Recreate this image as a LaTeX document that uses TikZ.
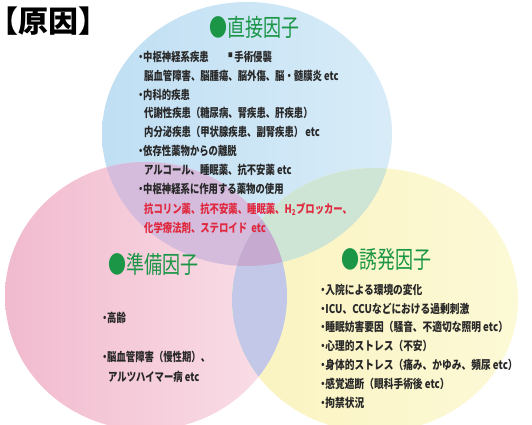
\documentclass[tikz,border=0pt]{standalone}
\usepackage{fontspec}
\newfontfamily\jp{Noto Sans CJK JP}
\definecolor{cblueL}{RGB}{192,223,243}
\definecolor{cblueR}{RGB}{216,236,248}
\definecolor{cpinkL}{RGB}{241,186,206}
\definecolor{cpinkR}{RGB}{250,224,232}
\definecolor{cyellL}{RGB}{250,243,192}
\definecolor{cyellR}{RGB}{252,249,214}
\definecolor{cby}{RGB}{206,228,212}
\definecolor{cbp}{RGB}{213,188,221}
\definecolor{cpy}{RGB}{195,199,232}
\definecolor{ctri}{RGB}{198,170,207}
\definecolor{tgray}{RGB}{40,40,40}
\definecolor{tgreen}{RGB}{26,150,70}
\definecolor{tred}{RGB}{224,40,62}
\newcommand{\sx}[1]{\scalebox{0.78}[1]{#1}}
\newcommand{\sy}[1]{\scalebox{0.81}[1]{#1}}
\newcommand{\st}[1]{\scalebox{0.75}[1]{#1}}
\newcommand{\bu}{・\kern-0.25em}
\begin{document}
\begin{tikzpicture}[x=1pt,y=-1pt,
  txt/.style={anchor=west,inner sep=0,font=\jp\bfseries\fontsize{12}{14}\selectfont,text=tgray},
  redtxt/.style={txt,text=tred},
  ttl/.style={anchor=west,inner sep=0,font=\jp\fontsize{24}{28}\selectfont,text=tgreen}]
\useasboundingbox (0,0) rectangle (532,425);
\fill[white] (0,0) rectangle (532,425);
\clip (0,0) rectangle (532,425);
% circles
\shade[left color=cblueL,right color=cblueR] (247,134) ellipse [x radius=145pt, y radius=132pt];
\shade[left color=cpinkL,right color=cpinkR] (146,296) ellipse [x radius=141pt, y radius=134pt];
\shade[left color=cyellL,right color=cyellR] (375,300) ellipse [x radius=143pt, y radius=132pt];
\begin{scope}
  \clip (247,134) ellipse [x radius=145pt, y radius=132pt];
  \fill[cbp] (146,296) ellipse [x radius=141pt, y radius=134pt];
  \fill[cby] (375,300) ellipse [x radius=143pt, y radius=132pt];
\end{scope}
\begin{scope}
  \clip (146,296) ellipse [x radius=141pt, y radius=134pt];
  \fill[cpy] (375,300) ellipse [x radius=143pt, y radius=132pt];
\end{scope}
\begin{scope}
  \clip (247,134) ellipse [x radius=145pt, y radius=132pt];
  \clip (146,296) ellipse [x radius=141pt, y radius=134pt];
  \fill[ctri] (375,300) ellipse [x radius=143pt, y radius=132pt];
\end{scope}
% heading
\node[anchor=west,inner sep=0,font=\jp\bfseries\fontsize{30}{32}\selectfont] (gen) at (-12,21) {【原因】};
% direct factors
\node[ttl] (t1) at (209,27) {\st{●直接因子}};
\node[txt] (a1) at (136,57) {\sx{\bu 中枢神経系疾患}};
\node[txt] (a1b) at (228,57) {\sx{\raisebox{0.35em}{\fontsize{6}{6}\selectfont ■}\,手術侵襲}};
\node[txt] (a2) at (144,76) {\sx{脳血管障害、脳腫瘍、脳外傷、脳・髄膜炎 etc}};
\node[txt] (a3) at (136,95) {\sx{\bu 内科的疾患}};
\node[txt] (a4) at (144,113) {\sx{代謝性疾患（糖尿病、腎疾患、肝疾患）}};
\node[txt] (a5) at (144,132) {\sx{内分泌疾患（甲状腺疾患、副腎疾患） etc}};
\node[txt] (a6) at (136,151) {\sx{\bu 依存性薬物からの離脱}};
\node[txt] (a7) at (144,170) {\sx{アルコール、睡眠薬、抗不安薬 etc}};
\node[txt] (a8) at (136,189) {\sx{\bu 中枢神経系に作用する薬物の使用}};
\node[redtxt] (a9) at (144,209) {\sx{抗コリン薬、抗不安薬、睡眠薬、H\textsubscript{2}ブロッカー、}};
\node[redtxt] (a10) at (144,228) {\sx{化学療法剤、ステロイド\ \ etc}};
% predisposing
\node[ttl] (t2) at (108,264) {\st{●準備因子}};
\node[txt] (b1) at (100,318) {\sx{\bu 高齢}};
\node[txt] (b2) at (100,357) {\sx{\bu 脳血管障害（慢性期）、}};
\node[txt] (b3) at (108,377) {\sx{アルツハイマー病 etc}};
% precipitating
\node[ttl] (t3) at (341,259) {\st{●誘発因子}};
\node[txt] (c1) at (318,290) {\sy{\bu 入院による環境の変化}};
\node[txt] (c2) at (318,309) {\sy{\bu ICU、CCUなどにおける過剰刺激}};
\node[txt] (c3) at (318,327) {\sy{\bu 睡眠妨害要因（騒音、不適切な照明 etc）}};
\node[txt] (c4) at (318,346) {\sy{\bu 心理的ストレス（不安）}};
\node[txt] (c5) at (318,365) {\sy{\bu 身体的ストレス（痛み、かゆみ、頻尿 etc）}};
\node[txt] (c6) at (318,384) {\sy{\bu 感覚遮断（眼科手術後 etc）}};
\node[txt] (c7) at (318,403) {\sy{\bu 拘禁状況}};
\end{tikzpicture}
\end{document}
